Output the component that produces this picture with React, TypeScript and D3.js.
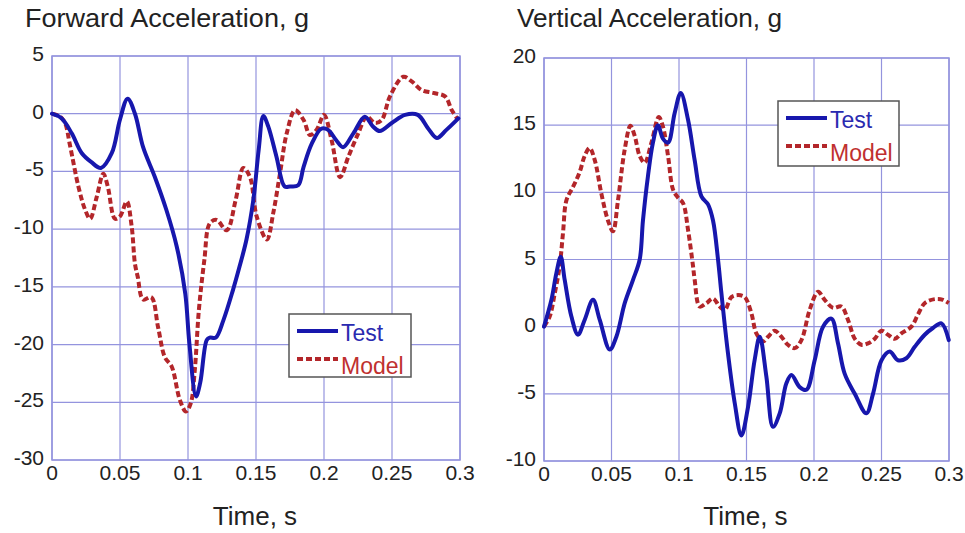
import React from "react";
import * as d3 from "d3";

// ---- Data ----
const xTicks = [0, 0.05, 0.1, 0.15, 0.2, 0.25, 0.3];
const xTickLabels = ["0", "0.05", "0.1", "0.15", "0.2", "0.25", "0.3"];
const fwdYTicks = [5, 0, -5, -10, -15, -20, -25, -30];
const vertYTicks = [20, 15, 10, 5, 0, -5, -10];

const fwdTestT = [0, 0.007, 0.0145, 0.0218, 0.029, 0.036, 0.044, 0.05, 0.0556, 0.061, 0.067, 0.0757, 0.084, 0.0917, 0.098, 0.101, 0.1059, 0.109, 0.1138, 0.116, 0.1204, 0.126, 0.133, 0.138, 0.143, 0.148, 0.152, 0.1554, 0.159, 0.165, 0.171, 0.175, 0.181, 0.185, 0.191, 0.198, 0.203, 0.209, 0.214, 0.2216, 0.23, 0.236, 0.241, 0.2498, 0.2596, 0.269, 0.2767, 0.283, 0.29, 0.2988];
const fwdTestV = [0, -0.4, -1.7, -3.4, -4.2, -4.7, -3.4, -0.5, 1.3, 0, -2.9, -5.5, -8.3, -11.5, -15.6, -19.9, -24.5, -23.3, -19.6, -19.4, -19.4, -17.9, -15.3, -13.2, -10.9, -7.5, -3.1, -0.2, -1.1, -3.7, -6.3, -6.3, -6.2, -4.6, -2.6, -1.3, -1.4, -2.3, -2.9, -1.7, -0.26, -1.1, -1.5, -0.8, -0.1, -0.1, -1.3, -2.1, -1.4, -0.4];

const fwdModelT = [0, 0.006, 0.0096, 0.013, 0.0194, 0.0243, 0.028, 0.0329, 0.0377, 0.041, 0.0463, 0.05, 0.055, 0.0586, 0.061, 0.063, 0.067, 0.073, 0.078, 0.083, 0.088, 0.094, 0.0985, 0.102, 0.105, 0.108, 0.112, 0.116, 0.121, 0.1285, 0.135, 0.1407, 0.1456, 0.1505, 0.158, 0.1627, 0.1676, 0.1726, 0.1787, 0.185, 0.1897, 0.1946, 0.2, 0.2056, 0.2118, 0.218, 0.2252, 0.2314, 0.2375, 0.2424, 0.2485, 0.2583, 0.2645, 0.2718, 0.2804, 0.289, 0.294, 0.2988];
const fwdModelV = [0, -0.25, -0.8, -2.6, -6.3, -8.3, -9.1, -7.2, -5.2, -6.3, -9.1, -8.9, -7.6, -9.8, -13, -14.1, -16.1, -15.9, -18.5, -21.1, -21.9, -24.8, -25.8, -25.1, -22.2, -17, -12.7, -9.5, -9.2, -10.1, -7.5, -4.7, -5.5, -8.9, -10.9, -8.6, -5.2, -1.7, 0.3, -0.55, -1.85, -1.4, -0.1, -2.3, -5.5, -3.7, -1.7, -0.26, -0.8, -0.55, 1.5, 3.2, 2.8, 2.05, 1.8, 1.5, 0.3, -0.55];

const vertTestT = [0, 0.0055, 0.0092, 0.0124, 0.0153, 0.0203, 0.0252, 0.0301, 0.0363, 0.0413, 0.0487, 0.0536, 0.0598, 0.066, 0.0709, 0.0733, 0.077, 0.0807, 0.0844, 0.0881, 0.0919, 0.0968, 0.1013, 0.1067, 0.1116, 0.1166, 0.1215, 0.1252, 0.1289, 0.1314, 0.1363, 0.1413, 0.1462, 0.1511, 0.156, 0.1598, 0.1647, 0.1696, 0.1746, 0.1796, 0.1833, 0.1894, 0.1944, 0.2005, 0.2067, 0.2129, 0.2178, 0.2227, 0.2302, 0.2388, 0.2437, 0.25, 0.256, 0.2622, 0.2684, 0.2746, 0.282, 0.2881, 0.2944, 0.2998];
const vertTestV = [0, 2, 4, 5.2, 3.5, 0.75, -0.6, 0.5, 2.0, 0.5, -1.7, -0.75, 1.75, 3.5, 5.0, 7.9, 11.2, 13.7, 15.0, 14.0, 13.7, 15.9, 17.4, 15.4, 12.4, 9.7, 9.1, 7.9, 5.0, 2.5, -2, -5.7, -8.1, -6, -2.5, -0.75, -3.7, -7.45, -6.45, -4.2, -3.6, -4.5, -4.7, -2.5, 0, 0.6, -1.25, -3.5, -5.0, -6.45, -5, -2.5, -1.85, -2.5, -2.35, -1.5, -0.6, -0.1, 0.25, -1.0];

const vertModelT = [0, 0.0042, 0.008, 0.0116, 0.0141, 0.0166, 0.0215, 0.0264, 0.0301, 0.0338, 0.0376, 0.0425, 0.0474, 0.0511, 0.0548, 0.0598, 0.064, 0.0672, 0.0709, 0.0746, 0.0796, 0.085, 0.0881, 0.0919, 0.0956, 0.0993, 0.103, 0.1067, 0.1104, 0.1116, 0.1153, 0.1203, 0.1252, 0.1301, 0.1339, 0.1388, 0.1437, 0.1487, 0.1536, 0.1573, 0.1622, 0.166, 0.1709, 0.1758, 0.1807, 0.1857, 0.1907, 0.1968, 0.203, 0.2079, 0.2141, 0.2203, 0.2252, 0.2302, 0.2351, 0.24, 0.245, 0.2499, 0.2548, 0.2598, 0.2647, 0.2721, 0.277, 0.282, 0.2894, 0.2956, 0.2998];
const vertModelV = [0, 0.75, 2.5, 4.5, 7, 9.4, 10.4, 11.5, 12.7, 13.3, 12.4, 9.9, 7.9, 7.1, 9.4, 13.2, 14.95, 14.2, 12.7, 12.2, 13.7, 15.6, 14.9, 12.7, 10.2, 9.6, 9.2, 7.2, 4.5, 3.5, 1.5, 1.75, 2.1, 1.5, 1.25, 2.2, 2.35, 2.2, 1.0, -0.5, -1.1, -0.75, -0.3, -0.75, -1.35, -1.6, -1.0, 1.25, 2.6, 2.0, 1.4, 1.5, 0.5, -0.9, -1.35, -1.25, -0.9, -0.3, -0.6, -0.9, -0.5, 0, 0.9, 1.75, 2.05, 2.0, 1.75];

const seriesNames = ["Test", "Model"];

// ---- Style ----
const FONT = "'Liberation Sans', Arial, Helvetica, sans-serif";
const BLUE = "#1717ad";
const RED = "#b3262a";
const BLUE_TXT = "#2a2ab0";
const RED_TXT = "#c0302f";
const GRID = "#9494de";
const TXT = "#222";

type PanelProps = {
  title: string;
  titleX: number;
  titleW: number;
  left: number;
  right: number;
  top: number;
  bottom: number;
  yDomain: [number, number];
  yTicks: number[];
  testT: number[];
  testV: number[];
  modelT: number[];
  modelV: number[];
  legend: { x: number; y: number; w: number; h: number };
};

function Panel(p: PanelProps) {
  const x = d3.scaleLinear().domain([0, 0.3]).range([p.left, p.right]);
  const y = d3.scaleLinear().domain(p.yDomain).range([p.bottom, p.top]);
  const line = d3
    .line<[number, number]>()
    .x((d) => x(d[0]))
    .y((d) => y(d[1]))
    .curve(d3.curveCatmullRom.alpha(0.5));
  const testPts = p.testT.map((t, i) => [t, p.testV[i]] as [number, number]);
  const modelPts = p.modelT.map((t, i) => [t, p.modelV[i]] as [number, number]);
  const cx = (p.left + p.right) / 2;
  const lg = p.legend;
  return (
    <g>
      <text
        x={p.titleX}
        y={27}
        fontFamily={FONT}
        fontSize={25.5}
        fill={TXT}
        textLength={p.titleW}
        lengthAdjust="spacingAndGlyphs"
      >
        {p.title}
      </text>
      {xTicks.map((t) => (
        <line key={"gx" + t} x1={x(t)} x2={x(t)} y1={p.top} y2={p.bottom} stroke={GRID} strokeWidth={1.2} />
      ))}
      {p.yTicks.map((v) => (
        <line key={"gy" + v} x1={p.left} x2={p.right} y1={y(v)} y2={y(v)} stroke={GRID} strokeWidth={1.2} />
      ))}
      <rect x={p.left} y={p.top} width={p.right - p.left} height={p.bottom - p.top} fill="none" stroke={GRID} strokeWidth={1.5} />
      {p.yTicks.map((v) => (
        <text key={"ty" + v} x={p.left - 8} y={y(v) + 5} textAnchor="end" fontFamily={FONT} fontSize={21} fill={TXT}>
          {String(v)}
        </text>
      ))}
      {xTicks.map((t, i) => (
        <text key={"tx" + t} x={x(t)} y={p.bottom + 20} textAnchor="middle" fontFamily={FONT} fontSize={21} fill={TXT}>
          {xTickLabels[i]}
        </text>
      ))}
      <text x={cx - 1} y={525} textAnchor="middle" fontFamily={FONT} fontSize={26} fill={TXT}>
        Time, s
      </text>
      <path d={line(modelPts) || ""} fill="none" stroke={RED} strokeWidth={4} strokeDasharray="6,3" />
      <path d={line(testPts) || ""} fill="none" stroke={BLUE} strokeWidth={4} strokeLinejoin="round" strokeLinecap="round" />
      <g>
        <rect x={lg.x} y={lg.y} width={lg.w} height={lg.h} fill="#fff" stroke="#555" strokeWidth={1.5} />
        <line x1={lg.x + 8} x2={lg.x + 49} y1={lg.y + 17} y2={lg.y + 17} stroke={BLUE} strokeWidth={4} />
        <line x1={lg.x + 8} x2={lg.x + 49} y1={lg.y + 45} y2={lg.y + 45} stroke={RED} strokeWidth={4} strokeDasharray="6,3" />
        <text x={lg.x + 52} y={lg.y + 27} fontFamily={FONT} fontSize={23} fill={BLUE_TXT}>
          {seriesNames[0]}
        </text>
        <text x={lg.x + 52} y={lg.y + 60} fontFamily={FONT} fontSize={23} fill={RED_TXT}>
          {seriesNames[1]}
        </text>
      </g>
    </g>
  );
}

export default function App() {
  return (
    <svg
      width={965}
      height={533}
      viewBox="0 0 965 533"
      style={{ position: "absolute", left: 0, top: 0, background: "#fff" }}
    >
      <rect x={0} y={0} width={965} height={533} fill="#fff" />
      <Panel
        title="Forward Acceleration, g"
        titleX={25}
        titleW={284}
        left={52}
        right={460}
        top={56}
        bottom={460}
        yDomain={[-30, 5]}
        yTicks={fwdYTicks}
        testT={fwdTestT}
        testV={fwdTestV}
        modelT={fwdModelT}
        modelV={fwdModelV}
        legend={{ x: 289, y: 314, w: 122, h: 63 }}
      />
      <Panel
        title="Vertical Acceleration, g"
        titleX={517}
        titleW={265}
        left={544}
        right={949}
        top={58}
        bottom={461}
        yDomain={[-10, 20]}
        yTicks={vertYTicks}
        testT={vertTestT}
        testV={vertTestV}
        modelT={vertModelT}
        modelV={vertModelV}
        legend={{ x: 778, y: 101, w: 121, h: 65 }}
      />
    </svg>
  );
}
